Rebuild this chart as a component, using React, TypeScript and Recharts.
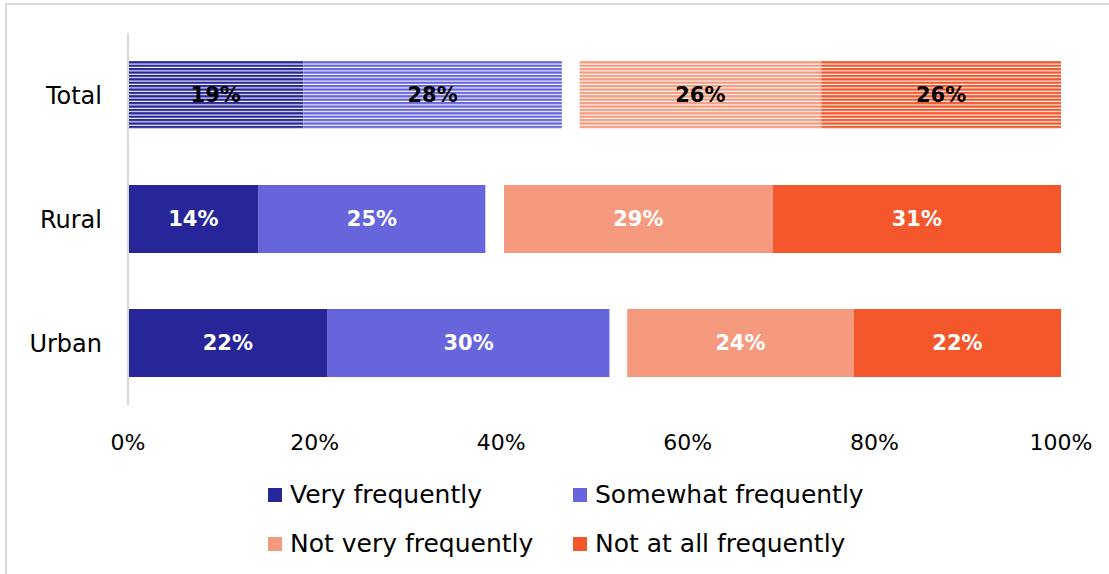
import { BarChart, Bar, XAxis, YAxis, Legend, LabelList, Cell } from "recharts";

const categories = ["Total", "Rural", "Urban"];
const veryFrequently = [18.8, 14.0, 21.4];
const somewhatFrequently = [27.7, 24.3, 30.2];
// transparent spacer between the "frequent" and "not frequent" halves
const spacer = [1.9, 2.0, 1.9];
const notVeryFrequently = [25.9, 28.8, 24.3];
const notAtAllFrequently = [25.7, 30.9, 22.2];

const veryLabels = ["19%", "14%", "22%"];
const somewhatLabels = ["28%", "25%", "30%"];
const notVeryLabels = ["26%", "29%", "24%"];
const notAtAllLabels = ["26%", "31%", "22%"];

const xTicks = [0, 20, 40, 60, 80, 100];

const FONT = '"DejaVu Sans", sans-serif';

const series = [
  { key: "very", name: "Very frequently", color: "#262699", pattern: "hatch-very" },
  { key: "somewhat", name: "Somewhat frequently", color: "#6665DB", pattern: "hatch-somewhat" },
  { key: "notVery", name: "Not very frequently", color: "#F69A7F", pattern: "hatch-notvery" },
  { key: "notAtAll", name: "Not at all frequently", color: "#F3572B", pattern: "hatch-notatall" },
];

const data = categories.map((name, i) => ({
  name,
  very: veryFrequently[i],
  veryLabel: veryLabels[i],
  somewhat: somewhatFrequently[i],
  somewhatLabel: somewhatLabels[i],
  spacer: spacer[i],
  notVery: notVeryFrequently[i],
  notVeryLabel: notVeryLabels[i],
  notAtAll: notAtAllFrequently[i],
  notAtAllLabel: notAtAllLabels[i],
}));

function renderLabel(props: any) {
  const { x, y, width, height, value, index } = props;
  return (
    <text
      x={x + width / 2}
      y={y + height / 2}
      textAnchor="middle"
      dominantBaseline="central"
      fill={index === 0 ? "#000" : "#fff"}
      fontFamily={FONT}
      fontWeight="bold"
      fontSize={21}
    >
      {value}
    </text>
  );
}

function renderLegend() {
  return (
    <div
      style={{
        marginLeft: 268,
        display: "grid",
        gridTemplateColumns: "305px 305px",
        gridAutoRows: "49px",
        fontFamily: FONT,
        fontSize: 25,
        color: "#000",
      }}
    >
      {series.map((s) => (
        <div key={s.key} style={{ display: "flex", alignItems: "center" }}>
          <span
            style={{
              width: 14,
              height: 14,
              background: s.color,
              marginRight: 8,
              display: "inline-block",
            }}
          />
          <span>{s.name}</span>
        </div>
      ))}
    </div>
  );
}

export default function App() {
  return (
    <div
      style={{
        position: "absolute",
        left: 0,
        top: 0,
        width: 1109,
        height: 574,
        background: "#fff",
        overflow: "hidden",
      }}
    >
      <div
        style={{
          position: "absolute",
          left: 5,
          top: 3,
          width: 1120,
          height: 600,
          border: "2px solid #d9d9d9",
        }}
      />
      <BarChart
        width={1109}
        height={574}
        data={data}
        layout="vertical"
        barSize={68}
        margin={{ top: 33, right: 48, left: 0, bottom: 6 }}
        style={{ position: "absolute", left: 0, top: 0 }}
      >
        <defs>
          {series.map((s) => (
            <pattern
              key={s.pattern}
              id={s.pattern}
              patternUnits="userSpaceOnUse"
              width={8}
              height={3.4}
            >
              <rect x={0} y={0} width={8} height={3.4} fill="#fff" />
              <rect x={0} y={0} width={8} height={2.3} fill={s.color} />
            </pattern>
          ))}
        </defs>
        <XAxis
          type="number"
          domain={[0, 100]}
          ticks={xTicks}
          tickFormatter={(v) => `${v}%`}
          axisLine={false}
          tickLine={false}
          tickMargin={23}
          height={65}
          interval={0}
          tick={{ fontSize: 22, fill: "#000", fontFamily: FONT }}
        />
        <YAxis
          type="category"
          dataKey="name"
          width={128}
          axisLine={{ stroke: "#d9d9d9", strokeWidth: 2 }}
          tickLine={false}
          tickMargin={20}
          tick={{ fontSize: 24, fill: "#000", fontFamily: FONT }}
        />
        <Legend verticalAlign="bottom" height={98} content={renderLegend} />
        {series.slice(0, 2).map((s) => (
          <Bar key={s.key} dataKey={s.key} name={s.name} stackId="a" fill={s.color} isAnimationActive={false}>
            {data.map((_, i) => (
              <Cell key={i} fill={i === 0 ? `url(#${s.pattern})` : s.color} />
            ))}
            <LabelList dataKey={`${s.key}Label`} content={renderLabel} />
          </Bar>
        ))}
        <Bar dataKey="spacer" stackId="a" fill="transparent" legendType="none" isAnimationActive={false} />
        {series.slice(2).map((s) => (
          <Bar key={s.key} dataKey={s.key} name={s.name} stackId="a" fill={s.color} isAnimationActive={false}>
            {data.map((_, i) => (
              <Cell key={i} fill={i === 0 ? `url(#${s.pattern})` : s.color} />
            ))}
            <LabelList dataKey={`${s.key}Label`} content={renderLabel} />
          </Bar>
        ))}
      </BarChart>
    </div>
  );
}
